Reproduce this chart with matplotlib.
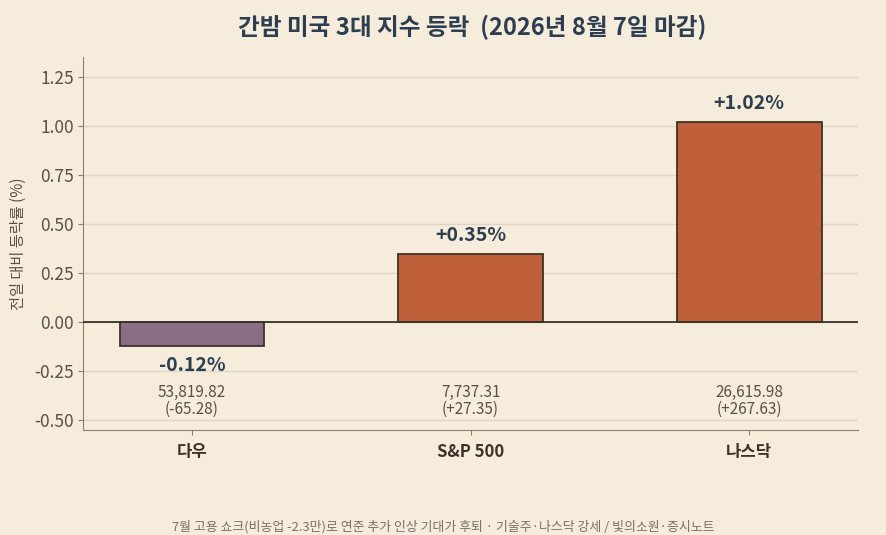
import matplotlib
matplotlib.use("Agg")
import matplotlib.pyplot as plt

plt.rcParams['font.family'] = ['Noto Sans CJK KR', 'DejaVu Sans']

# data
indices = ['다우', 'S&P 500', '나스닥']
pct_change = [-0.12, 0.35, 1.02]
closes = ['53,819.82', '7,737.31', '26,615.98']
point_change = ['(-65.28)', '(+27.35)', '(+267.63)']
bar_colors = ['#8a6e85', '#c0603a', '#c0603a']

bg = '#f5ecdc'
fig, ax = plt.subplots(figsize=(8.87, 5.35), dpi=100)
fig.patch.set_facecolor(bg)
ax.set_facecolor(bg)
fig.subplots_adjust(left=0.094, right=0.967, top=0.893, bottom=0.196)

x = list(range(len(indices)))
ax.bar(x, pct_change, width=0.52, color=bar_colors, edgecolor='#3d3228', linewidth=1.3, zorder=3)
ax.axhline(0, color='#3d3228', linewidth=1.3, zorder=4)

for xi, v, c, p in zip(x, pct_change, closes, point_change):
    if v >= 0:
        ax.text(xi, v + 0.045, f'+{v:.2f}%', ha='center', va='bottom', fontsize=14,
                fontweight='bold', color='#2c3e50')
    else:
        ax.text(xi, v - 0.1, f'{v:.2f}%', ha='center', va='center', fontsize=14,
                fontweight='bold', color='#2c3e50')
    ax.text(xi, -0.40, f'{c}\n{p}', ha='center', va='center', fontsize=11,
            color='#5a5048', linespacing=1.0)

ax.set_xlim(-0.39, 2.39)
ax.set_ylim(-0.55, 1.35)
ticks = [-0.5, -0.25, 0, 0.25, 0.5, 0.75, 1.0, 1.25]
ax.set_yticks(ticks)
ax.set_yticklabels([f'{t:.2f}' for t in ticks])
ax.set_xticks(x)
ax.set_xticklabels(indices, fontsize=12, fontweight='bold', color='#3d3228')
ax.tick_params(axis='y', labelsize=12.5, labelcolor='#5a5048', color='#8a7f6e')
ax.tick_params(axis='x', color='#8a7f6e', pad=6)
ax.grid(axis='y', color='#e0d5c2', linewidth=1, zorder=0)
ax.set_axisbelow(True)
for s in ['top', 'right']:
    ax.spines[s].set_visible(False)
for s in ['left', 'bottom']:
    ax.spines[s].set_color('#8a7f6e')
ax.set_ylabel('전일 대비 등락률 (%)', fontsize=11, color='#5a5048', labelpad=5)

fig.suptitle('간밤 미국 3대 지수 등락  (2026년 8월 7일 마감)', fontsize=17, fontweight='bold',
             color='#2c3e50', y=0.972, x=0.532)
fig.text(0.5, 0.003, '7월 고용 쇼크(비농업 -2.3만)로 연준 추가 인상 기대가 후퇴 · 기술주·나스닥 강세 / 빛의소원·증시노트',
         ha='center', va='bottom', fontsize=9.3, color='#7a7068')

fig.savefig('out.png', dpi=100, facecolor=bg)
